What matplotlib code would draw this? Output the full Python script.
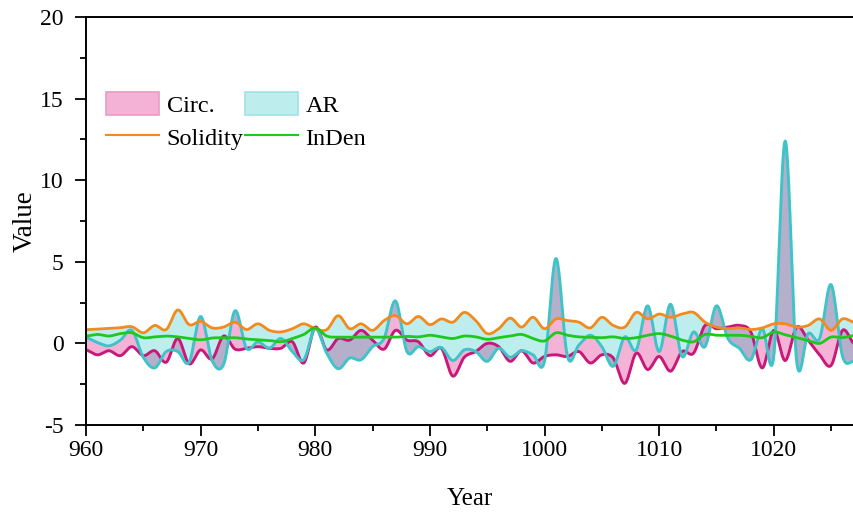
import numpy as np
import matplotlib
matplotlib.use("Agg")
import matplotlib.pyplot as plt
from matplotlib.patches import Patch
from matplotlib.lines import Line2D

plt.rcParams['font.family'] = ['Liberation Serif', 'DejaVu Serif']
plt.rcParams['axes.unicode_minus'] = False

# values, one per year
years = list(range(960, 1028))

circ = [-0.4, -0.7, -0.45, -0.75, -0.2, -0.75, -0.45, -1.15, 0.3, -1.25,
        -0.4, -0.95, 0.45, -0.35, -0.3, -0.2, -0.3, -0.3, 0.1, -1.2,
        1.0, -0.4, 0.3, 0.2, 0.8, 0.2, -0.35, 0.8, 0.2, 0.1,
        -0.75, -0.3, -2.0, -0.85, -0.5, 0.0, -0.2, -1.1, -0.45, -1.2,
        -0.8, -0.7, -0.8, -0.5, -1.2, -0.7, -0.9, -2.45, -0.6, -1.6,
        -0.8, -1.7, -0.5, -0.6, 1.1, 0.9, 1.0, 1.1, 0.7, -1.5,
        0.8, -1.05, 1.0, 0.2, -0.7, -1.35, 0.8, 0.0]

ar = [0.35, 0.05, -0.15, 0.2, 0.8, -0.85, -1.5, -0.5, -0.5, -1.15,
      1.65, -1.05, -1.3, 2.0, -0.3, 0.1, -0.3, 0.3, -0.5, -1.0,
      0.9, -0.6, -1.55, -0.9, -1.0, -0.2, 0.3, 2.6, -0.5, -0.2,
      -0.5, -0.25, -1.05, -0.4, -0.5, -1.1, -0.3, -0.85, -0.45, -0.7,
      -1.1, 5.2, -0.8, -0.1, 0.5, -0.2, -1.4, 0.4, -0.4, 2.3,
      -0.5, 2.4, -0.8, 0.7, -0.2, 2.3, 0.3, -0.3, -1.0, 0.9,
      -0.8, 12.4, -1.1, 0.6, 0.3, 3.6, -0.8, -1.1]

solidity = [0.84, 0.88, 0.92, 0.96, 1.02, 0.65, 1.1, 0.85, 2.05, 1.15,
            1.35, 0.95, 1.0, 1.3, 0.85, 1.2, 0.8, 0.7, 0.9, 1.2,
            0.9, 0.84, 1.7, 0.9, 1.2, 0.8, 1.4, 1.7, 1.2, 1.65,
            1.15, 1.5, 1.3, 1.9, 1.4, 0.6, 0.9, 1.55, 1.0, 1.6,
            0.9, 1.5, 1.4, 1.3, 0.95, 1.6, 1.1, 1.0, 1.9, 1.5,
            1.8, 1.6, 1.8, 1.9, 1.3, 1.0, 0.9, 0.95, 0.85, 0.95,
            1.2, 1.2, 1.0, 1.1, 1.5, 0.8, 1.5, 1.3]

inden = [0.45, 0.55, 0.45, 0.6, 0.65, 0.35, 0.4, 0.45, 0.4, 0.3,
         0.22, 0.33, 0.35, 0.35, 0.27, 0.22, 0.18, 0.1, 0.3, 0.55,
         0.95, 0.45, 0.38, 0.38, 0.38, 0.38, 0.38, 0.38, 0.43, 0.4,
         0.5, 0.4, 0.3, 0.45, 0.4, 0.25, 0.35, 0.45, 0.55, 0.3,
         0.15, 0.65, 0.5, 0.4, 0.38, 0.35, 0.4, 0.3, 0.35, 0.5,
         0.6, 0.45, 0.2, 0.1, 0.55, 0.5, 0.5, 0.5, 0.43, 0.35,
         0.7, 0.53, 0.35, 0.18, 0.0, 0.39, 0.35, 0.49]

PINK_LINE = '#c8187a'
CYAN_LINE = '#3ec4c8'
ORANGE = '#f28a1e'
GREEN = '#1ec81e'
PINK_FILL = '#f4b3d6'
CYAN_FILL = '#bdeeed'
BOTH_FILL = '#b6afcc'


def spline(x, y, n=24):
    # catmull-rom connection, like the spline line style in Origin
    x = np.asarray(x, float)
    y = np.asarray(y, float)
    p = np.concatenate([[y[0]], y, [y[-1]]])
    t = np.linspace(0, 1, n, endpoint=False)
    xs, ys = [], []
    for i in range(len(x) - 1):
        p0, p1, p2, p3 = p[i], p[i + 1], p[i + 2], p[i + 3]
        ys.append(0.5 * (2 * p1 + (p2 - p0) * t + (2 * p0 - 5 * p1 + 4 * p2 - p3) * t ** 2
                         + (3 * p1 - p0 - 3 * p2 + p3) * t ** 3))
        xs.append(x[i] + (x[i + 1] - x[i]) * t)
    xs.append([x[-1]])
    ys.append([y[-1]])
    return np.concatenate(xs), np.concatenate(ys)


xs, c = spline(years, circ)
_, a = spline(years, ar)
_, s = spline(years, solidity)
_, d = spline(years, inden)

fig = plt.figure(figsize=(8.54, 5.13), dpi=100)
ax = fig.add_axes([86 / 854, 88 / 513, 768 / 854, 408 / 513])

# Circ. filled to AR, AR filled to Solidity; the overlap shows darker
ax.fill_between(xs, c, a, color=PINK_FILL, lw=0)
ax.fill_between(xs, a, s, color=CYAN_FILL, lw=0)
same = (c - a) * (s - a) > 0
edge = np.where(c > a, np.minimum(c, s), np.maximum(c, s))
ax.fill_between(xs, a, edge, where=same, color=BOTH_FILL, lw=0)

ax.plot(xs, c, color=PINK_LINE, lw=2.1)
ax.plot(xs, a, color=CYAN_LINE, lw=2.1)
ax.plot(xs, s, color=ORANGE, lw=2.0)
ax.plot(xs, d, color=GREEN, lw=2.0)

ax.set_xlim(960, 1027)
ax.set_ylim(-5, 20)
ax.set_xticks(range(960, 1021, 10))
ax.set_xticks(range(965, 1027, 10), minor=True)
ax.set_yticks(range(-5, 21, 5))
ax.set_yticks(np.arange(-2.5, 20, 5), minor=True)
ax.spines['right'].set_visible(False)
for sp in ax.spines.values():
    sp.set_linewidth(1.4)
ax.tick_params(which='major', direction='out', length=8, width=1.3, labelsize=17)
ax.tick_params(which='minor', direction='out', length=4.5, width=1.3)
ax.tick_params(axis='x', which='major', pad=3)
ax.tick_params(axis='y', which='major', pad=8)

ax.set_xlabel('Year', fontsize=18, labelpad=19)
ax.set_ylabel('Value', fontsize=19.5, labelpad=2)

handles = [Patch(facecolor=PINK_FILL, edgecolor='#e79cc6', lw=1.2),
           Line2D([], [], color=ORANGE, lw=1.5),
           Patch(facecolor=CYAN_FILL, edgecolor='#9fe2e2', lw=1.2),
           Line2D([], [], color=GREEN, lw=1.5)]
labels = ['Circ.', 'Solidity', 'AR', 'InDen']
ax.legend(handles, labels, ncol=2, frameon=False, fontsize=17.5,
          loc='upper left', bbox_to_anchor=(106 / 854, 1 - 92 / 513),
          bbox_transform=fig.transFigure, borderpad=0, borderaxespad=0,
          handlelength=2.2, handleheight=1.1, handletextpad=0.3,
          columnspacing=0.05, labelspacing=0.35)

fig.savefig('out.png', dpi=100)
